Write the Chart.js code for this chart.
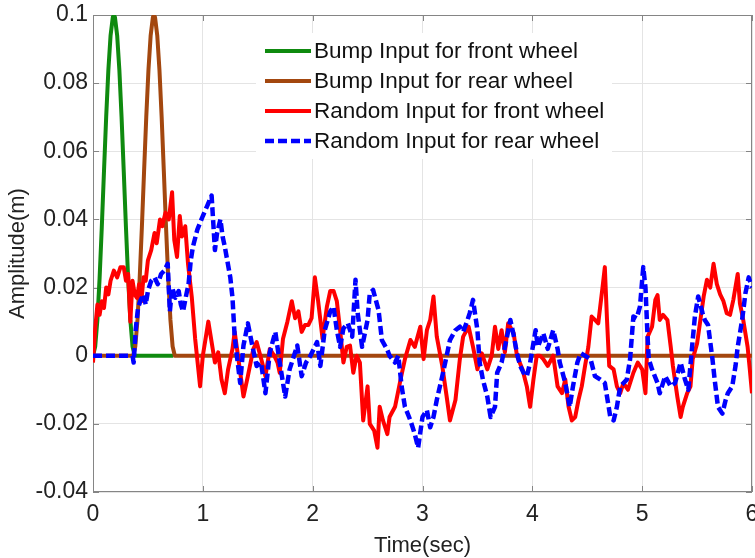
<!DOCTYPE html>
<html>
<head>
<meta charset="utf-8">
<script src="https://cdn.jsdelivr.net/npm/chart.js@4.4.0/dist/chart.umd.min.js"></script>
<style>
  html, body { margin: 0; padding: 0; background: #fff; }
  #wrap { width: 755px; height: 558px; }
</style>
</head>
<body>
<div id="wrap"><canvas id="road_input_plot" width="755" height="558"></canvas></div>
<script>
'use strict';

// Bump input, front wheel (time in s, amplitude in m)
const bumpFrontT = [0, 0.02, 0.04, 0.06, 0.08, 0.10, 0.12, 0.14, 0.16, 0.18, 0.19, 0.20, 0.22, 0.24, 0.26, 0.28, 0.30, 0.32, 0.34, 0.36, 0.38, 0.73];
const bumpFrontA = [0, 0.0027, 0.0105, 0.0227, 0.0377, 0.0541, 0.0701, 0.0839, 0.0940, 0.0993, 0.1, 0.0993, 0.0940, 0.0839, 0.0701, 0.0541, 0.0377, 0.0227, 0.0105, 0.0027, 0, 0];

// Bump input, rear wheel
const bumpRearT = [0, 0.365, 0.385, 0.405, 0.425, 0.445, 0.465, 0.485, 0.505, 0.525, 0.545, 0.555, 0.565, 0.585, 0.605, 0.625, 0.645, 0.665, 0.685, 0.705, 0.725, 0.745, 6];
const bumpRearA = [0, 0, 0.0027, 0.0105, 0.0227, 0.0377, 0.0541, 0.0701, 0.0839, 0.0940, 0.0993, 0.1, 0.0993, 0.0940, 0.0839, 0.0701, 0.0541, 0.0377, 0.0227, 0.0105, 0.0027, 0, 0];

// Random road input, front wheel
const randFrontT = [0, 0.02, 0.04, 0.06, 0.08, 0.10, 0.12, 0.14, 0.16, 0.19, 0.22, 0.25, 0.28, 0.30, 0.32, 0.34, 0.36, 0.38, 0.40, 0.42, 0.44, 0.46, 0.48, 0.50, 0.53, 0.56, 0.58, 0.61, 0.63, 0.66, 0.69, 0.72, 0.74, 0.765, 0.79, 0.81, 0.84, 0.865, 0.90, 0.93, 0.975,
    1.00, 1.05, 1.08, 1.11, 1.14, 1.17, 1.20, 1.23, 1.27, 1.29, 1.32, 1.37, 1.41, 1.46, 1.49, 1.54, 1.57, 1.61, 1.65, 1.68, 1.70, 1.73, 1.77, 1.81, 1.84, 1.87, 1.90, 1.93, 1.96, 1.99,
    2.02, 2.05, 2.09, 2.13, 2.16, 2.19, 2.22, 2.25, 2.28, 2.31, 2.34, 2.37, 2.40, 2.43, 2.46, 2.50, 2.52, 2.56, 2.59, 2.61, 2.64, 2.68, 2.70, 2.75, 2.80, 2.84, 2.89, 2.93, 2.98,
    3.01, 3.04, 3.07, 3.10, 3.13, 3.18, 3.22, 3.25, 3.30, 3.34, 3.37, 3.42, 3.46, 3.50, 3.54, 3.59, 3.63, 3.66, 3.69, 3.72, 3.75, 3.78, 3.83, 3.86, 3.91, 3.95, 3.98,
    4.01, 4.04, 4.07, 4.10, 4.14, 4.19, 4.23, 4.27, 4.30, 4.33, 4.36, 4.39, 4.42, 4.45, 4.48, 4.51, 4.54, 4.57, 4.60, 4.64, 4.66, 4.68, 4.70, 4.74, 4.77, 4.80, 4.83, 4.87, 4.92, 4.96,
    5.00, 5.03, 5.05, 5.09, 5.12, 5.14, 5.16, 5.19, 5.23, 5.26, 5.28, 5.32, 5.35, 5.37, 5.41, 5.44, 5.46, 5.50, 5.53, 5.56, 5.59, 5.62, 5.65, 5.68, 5.71, 5.74, 5.77, 5.80, 5.83, 5.87, 5.89, 5.92, 5.96, 5.98, 6.00];
const randFrontA = [-0.002, 0.008, 0.015, 0.012, 0.016, 0.014, 0.020, 0.018, 0.022, 0.025, 0.023, 0.026, 0.026, 0.022, 0.024, 0.010, 0.022, 0.018, 0.017, 0.021, 0.016, 0.023, 0.022, 0.028, 0.031, 0.036, 0.033, 0.040, 0.038, 0.042, 0.040, 0.048, 0.034, 0.029, 0.041, 0.035, 0.038, 0.027, 0.017, 0.005, -0.009,
    0.000, 0.010, 0.004, -0.002, 0.001, -0.007, -0.011, -0.004, 0.002, 0.007, 0.000, -0.012, -0.006, 0.002, 0.004, -0.002, -0.006, 0.002, 0.000, -0.002, -0.005, 0.005, 0.010, 0.016, 0.011, 0.013, 0.007, 0.009, 0.009, 0.011,
    0.023, 0.016, 0.005, 0.0145, 0.019, 0.019, 0.016, 0.0075, -0.002, 0.0026, 0.003, -0.005, 0.000, -0.002, -0.019, -0.009, -0.020, -0.022, -0.027, -0.015, -0.019, -0.023, -0.018, -0.015, -0.007, -0.001, 0.0046, 0.0026, 0.0085,
    -0.001, 0.0075, 0.0105, 0.0174, 0.0056, -0.003, -0.012, -0.019, -0.013, -0.001, 0.0056, 0.0085, 0.0026, -0.004, 0.0007, -0.004, 0.000, 0.0085, 0.002, 0.0075, 0.001, 0.0095, 0.0066, 0.000, -0.004, -0.009, -0.015,
    -0.007, 0.000, 0.000, -0.001, -0.003, 0.000, -0.009, -0.011, -0.007, -0.015, -0.019, -0.018, -0.013, -0.009, -0.003, 0.0026, 0.0115, 0.0105, 0.0095, 0.0203, 0.026, 0.0105, -0.003, -0.004, -0.009, -0.011, -0.008, -0.010, -0.005, -0.002,
    -0.004, -0.011, 0.0056, 0.0085, 0.0164, 0.0178, 0.0105, 0.012, 0.0105, 0.0026, -0.003, -0.012, -0.018, -0.015, -0.011, -0.009, -0.001, 0.0036, 0.0105, 0.0174, 0.0223, 0.020, 0.027, 0.021, 0.018, 0.016, 0.0125, 0.012, 0.0164, 0.024, 0.0154, 0.0105, 0.0026, -0.004, -0.011];

// Random road input, rear wheel
const randRearT = [0, 0.36, 0.37, 0.39, 0.41, 0.43, 0.46, 0.48, 0.50, 0.53, 0.56, 0.59, 0.62, 0.65, 0.68, 0.70, 0.72, 0.75, 0.78, 0.80, 0.82, 0.85, 0.87, 0.89, 0.91, 0.95,
    1.00, 1.04, 1.08, 1.11, 1.13, 1.16, 1.18, 1.20, 1.25, 1.27, 1.29, 1.31, 1.34, 1.37, 1.41, 1.45, 1.49, 1.53, 1.57, 1.61, 1.66, 1.70, 1.75, 1.79, 1.86, 1.90, 1.94, 1.98,
    2.04, 2.07, 2.11, 2.16, 2.19, 2.22, 2.25, 2.28, 2.32, 2.36, 2.39, 2.41, 2.45, 2.50, 2.52, 2.55, 2.60, 2.63, 2.68, 2.70, 2.75, 2.78, 2.81, 2.84, 2.89, 2.93, 2.96,
    3.00, 3.04, 3.07, 3.10, 3.13, 3.18, 3.22, 3.25, 3.30, 3.34, 3.37, 3.41, 3.43, 3.46, 3.50, 3.52, 3.55, 3.59, 3.62, 3.66, 3.68, 3.72, 3.77, 3.80, 3.83, 3.86, 3.89, 3.92, 3.95, 3.98,
    4.03, 4.05, 4.10, 4.14, 4.19, 4.23, 4.25, 4.30, 4.34, 4.37, 4.41, 4.44, 4.48, 4.53, 4.57, 4.62, 4.66, 4.71, 4.74, 4.77, 4.80, 4.83, 4.86, 4.89, 4.92, 4.95, 4.98,
    5.01, 5.03, 5.05, 5.06, 5.09, 5.14, 5.16, 5.21, 5.26, 5.30, 5.35, 5.39, 5.42, 5.46, 5.48, 5.51, 5.55, 5.57, 5.60, 5.64, 5.66, 5.69, 5.73, 5.76, 5.78, 5.82, 5.85, 5.87, 5.91, 5.94, 5.97, 6.00];
const randRearA = [0, 0, -0.002, 0.008, 0.014, 0.016, 0.018, 0.015, 0.019, 0.022, 0.023, 0.021, 0.024, 0.025, 0.027, 0.013, 0.020, 0.017, 0.019, 0.015, 0.013, 0.018, 0.021, 0.028, 0.032, 0.037,
    0.041, 0.044, 0.047, 0.031, 0.036, 0.040, 0.035, 0.032, 0.023, 0.017, 0.0055, 0.000, -0.008, 0.003, 0.0095, 0.003, -0.003, -0.002, -0.011, 0.001, 0.007, -0.002, -0.012, -0.004, 0.003, -0.006, -0.002, 0.000,
    0.004, -0.003, 0.0075, 0.013, 0.0144, 0.0075, 0.0026, 0.008, 0.0095, 0.0056, 0.0223, 0.0125, 0.0026, 0.0105, 0.0183, 0.0193, 0.0134, 0.0046, 0.0017, 0.000, -0.002, 0.000, -0.009, -0.015, -0.019, -0.023, -0.027,
    -0.018, -0.016, -0.021, -0.018, -0.013, -0.006, 0.000, 0.0046, 0.0075, 0.0085, 0.007, 0.0105, 0.0125, 0.0164, 0.0075, -0.002, -0.007, -0.012, -0.018, -0.015, -0.005, -0.002, 0.0056, 0.0105, 0.006, 0.0007, -0.003, -0.005, -0.006, -0.002,
    0.0075, 0.0026, 0.0066, 0.002, 0.0075, 0.002, -0.002, -0.008, -0.015, -0.009, -0.002, 0.0007, 0.000, -0.001, -0.006, -0.007, -0.008, -0.018, -0.019, -0.015, -0.009, -0.008, -0.007, -0.001, 0.0115, 0.011, 0.0144,
    0.026, 0.020, 0.005, -0.001, -0.004, -0.008, -0.011, -0.006, -0.009, -0.008, -0.002, -0.007, -0.010, 0.0046, 0.0115, 0.0174, 0.0125, 0.0105, 0.009, -0.001, -0.007, -0.015, -0.017, -0.013, -0.011, -0.009, -0.003, 0.0026, 0.0105, 0.0183, 0.023, 0.020];

const seriesLabels = ['Bump Input for front wheel', 'Bump Input for rear wheel', 'Random Input for front wheel', 'Random Input for rear wheel'];
const seriesColors = ['#0f8a0f', '#a3470f', '#ff0000', '#0000ff'];

const FONT = '"Liberation Sans", Arial, Helvetica, sans-serif';

function toPoints(t, a) {
    return t.map((x, i) => ({ x: x, y: a[i] }));
}

// MATLAB-like box with inward tick marks
const axesFrame = {
    id: 'axesFrame',
    beforeDatasetsDraw: function (chart) {
        const ctx = chart.ctx;
        const a = chart.chartArea;
        const sx = chart.scales.x, sy = chart.scales.y;
        ctx.save();
        ctx.strokeStyle = '#858585';
        ctx.lineWidth = 1;
        ctx.strokeRect(a.left + 0.5, a.top + 0.5, a.right - a.left - 1, a.bottom - a.top - 1);
        ctx.beginPath();
        sx.ticks.forEach(t => {
            const p = Math.round(sx.getPixelForValue(t.value)) + 0.5;
            ctx.moveTo(p, a.bottom); ctx.lineTo(p, a.bottom - 6);
            ctx.moveTo(p, a.top); ctx.lineTo(p, a.top + 6);
        });
        sy.ticks.forEach(t => {
            const p = Math.round(sy.getPixelForValue(t.value)) + 0.5;
            ctx.moveTo(a.left, p); ctx.lineTo(a.left + 6, p);
            ctx.moveTo(a.right, p); ctx.lineTo(a.right - 6, p);
        });
        ctx.stroke();
        ctx.restore();
    }
};

// legend drawn inside the axes, like the original figure
const insideLegend = {
    id: 'insideLegend',
    afterDatasetsDraw: function (chart) {
        const ctx = chart.ctx;
        ctx.save();
        ctx.fillStyle = '#ffffff';
        ctx.fillRect(256, 33, 356, 126);
        ctx.font = '22.5px ' + FONT;
        ctx.textBaseline = 'middle';
        chart.data.datasets.forEach((ds, i) => {
            const y = 51 + i * 30;
            ctx.beginPath();
            ctx.strokeStyle = ds.borderColor;
            ctx.lineWidth = ds.borderWidth;
            ctx.setLineDash(ds.borderDash || []);
            ctx.moveTo(265, y);
            ctx.lineTo(311, y);
            ctx.stroke();
            ctx.setLineDash([]);
            ctx.fillStyle = '#111';
            ctx.fillText(ds.label, 314, y + 1);
        });
        ctx.restore();
    }
};

const ctx = document.getElementById('road_input_plot').getContext('2d');

new Chart(ctx, {
    type: 'line',
    data: {
        datasets: [{
            label: seriesLabels[0],
            data: toPoints(bumpFrontT, bumpFrontA),
            borderColor: seriesColors[0],
            borderWidth: 4,
            order: 4
        }, {
            label: seriesLabels[1],
            data: toPoints(bumpRearT, bumpRearA),
            borderColor: seriesColors[1],
            borderWidth: 4,
            order: 3
        }, {
            label: seriesLabels[2],
            data: toPoints(randFrontT, randFrontA),
            borderColor: seriesColors[2],
            borderWidth: 4,
            order: 2
        }, {
            label: seriesLabels[3],
            data: toPoints(randRearT, randRearA),
            borderColor: seriesColors[3],
            borderWidth: 4.5,
            borderDash: [9, 4],
            order: 1
        }]
    },
    options: {
        responsive: false,
        animation: false,
        events: [],
        devicePixelRatio: 1,
        layout: { padding: { top: 15, right: 3, left: 0, bottom: 0 } },
        elements: {
            point: { radius: 0 },
            line: { tension: 0, fill: false, borderJoinStyle: 'round' }
        },
        plugins: {
            legend: { display: false },
            tooltip: { enabled: false }
        },
        scales: {
            x: {
                type: 'linear',
                min: 0,
                max: 6,
                afterFit: s => {
                    s.height = 66;
                    s.paddingLeft = 0;
                    s.paddingRight = 0;
                },
                grid: { color: '#e4e4e4', drawTicks: false },
                border: { display: false },
                ticks: {
                    stepSize: 1,
                    padding: 9,
                    color: '#222',
                    font: { family: FONT, size: 23 }
                },
                title: {
                    display: true,
                    text: 'Time(sec)',
                    color: '#222',
                    padding: { top: 0, bottom: -1 },
                    font: { family: FONT, size: 22 }
                }
            },
            y: {
                type: 'linear',
                min: -0.04,
                max: 0.1,
                afterFit: s => {
                    s.width = 93;
                    s.paddingTop = 0;
                    s.paddingBottom = 0;
                },
                grid: { color: '#e4e4e4', drawTicks: false },
                border: { display: false },
                ticks: {
                    stepSize: 0.02,
                    padding: 5,
                    color: '#222',
                    font: { family: FONT, size: 23 },
                    callback: v => String(+v.toFixed(2))
                },
                title: {
                    display: true,
                    text: 'Amplitude(m)',
                    color: '#222',
                    padding: { top: 5, bottom: 0 },
                    font: { family: FONT, size: 22 }
                }
            }
        }
    },
    plugins: [axesFrame, insideLegend]
});
</script>
</body>
</html>
